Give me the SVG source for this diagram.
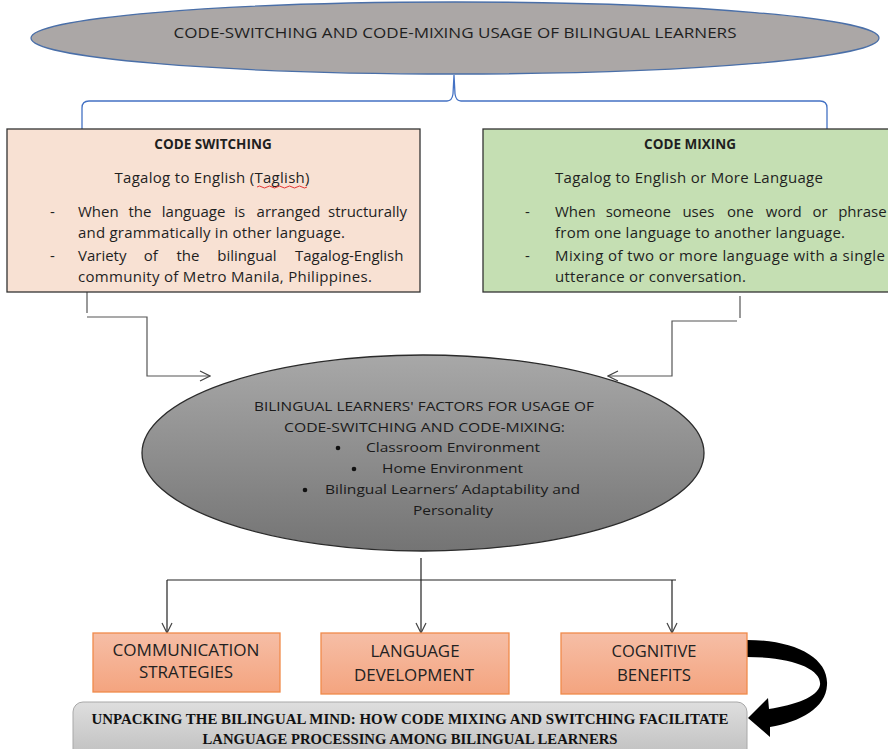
<svg xmlns="http://www.w3.org/2000/svg" width="888" height="749" viewBox="0 0 888 749">
<defs>
<style>
.t{font-family:"Open Sans","Noto Sans",sans-serif;fill:#1f1f1f}
.c{text-anchor:middle}
.b{font-weight:bold}
.body{font-size:15px}
.mid{font-size:13px;fill:#1a1a1a}
.bx{font-size:16px;fill:#222}
.ban{font-family:"Liberation Serif","DejaVu Serif",serif;font-weight:bold;font-size:15px;fill:#111;text-anchor:middle}
.conn{fill:none;stroke:#555;stroke-width:1.2}
.conn2{fill:none;stroke:#222;stroke-width:1.2}
.brace{fill:none;stroke:#4472c4;stroke-width:1.3}
.ob{fill:url(#og);stroke:#f08a4b;stroke-width:1.3}
</style>
<linearGradient id="mg" x1="0" y1="0" x2="0" y2="1"><stop offset="0" stop-color="#a8a8a8"/><stop offset="1" stop-color="#747474"/></linearGradient>
<linearGradient id="og" x1="0" y1="0" x2="0" y2="1"><stop offset="0" stop-color="#f6bea6"/><stop offset="1" stop-color="#f4a47f"/></linearGradient>
<linearGradient id="gg" x1="0" y1="0" x2="0" y2="1"><stop offset="0" stop-color="#dedede"/><stop offset="1" stop-color="#bdbdbd"/></linearGradient>
<marker id="ah" viewBox="0 0 12 12" refX="11" refY="6" markerWidth="12" markerHeight="12" markerUnits="userSpaceOnUse" orient="auto">
<path d="M1 1 L11 6 L1 11" fill="none" stroke="#444" stroke-width="1.2"/>
</marker>
</defs>

<g id="connectors">
<path class="brace" d="M82 129 L82 108 Q82 101 89 101 L447 101 Q452 101 453 94 L454 75 L455 94 Q456 101 461 101 L820 101 Q827 101 827 108 L827 129"/>
<line class="conn" x1="87" y1="292" x2="87" y2="313"/>
<polyline class="conn" points="87,317 147,317 147,376 210,376" marker-end="url(#ah)"/>
<line class="conn" x1="740" y1="296" x2="740" y2="318"/>
<polyline class="conn" points="737,321 672,321 672,376 608,376" marker-end="url(#ah)"/>
<line class="conn2" x1="421" y1="558" x2="421" y2="633" marker-end="url(#ah)"/>
<line class="conn2" x1="167" y1="580" x2="676" y2="580"/>
<line class="conn2" x1="167" y1="580" x2="167" y2="633" marker-end="url(#ah)"/>
<line class="conn2" x1="672" y1="580" x2="672" y2="633" marker-end="url(#ah)"/>
<path d="M747 640 C795 640 829 658 827 685 C826 708 800 722 770 727 L770 737 L748 718 L768 698 L769 709 C795 705 818 697 820 685 C822 670 795 657 747 657 Z" fill="#000"/>
</g>

<g id="title">
<ellipse cx="455" cy="38" rx="424" ry="36" fill="#aba7a6" stroke="#4a6fa8" stroke-width="1.3"/>
<text class="t c" x="455" y="38" font-size="14" textLength="563" lengthAdjust="spacingAndGlyphs">CODE-SWITCHING AND CODE-MIXING USAGE OF BILINGUAL LEARNERS</text>
</g>

<g id="code-switching">
<rect x="7" y="129" width="413" height="163" fill="#f8e1d3" stroke="#333" stroke-width="1.3"/>
<text class="t c b" x="213" y="149" font-size="13.5">CODE SWITCHING</text>
<text class="t c body" x="212" y="183" textLength="195">Tagalog to English (Taglish)</text>
<path d="M257 187 q2.5 -2 5 0 t5 0 t5 0 t5 0 t5 0 t5 0 t5 0 t5 0 t5 0 t5 0" fill="none" stroke="#e02020" stroke-width="0.9"/>
<text class="t body" x="50" y="217">-</text>
<text class="t body" y="217"><tspan x="78">When</tspan><tspan x="128.4">the</tspan><tspan x="161.8">language</tspan><tspan x="234.2">is</tspan><tspan x="256.6">arranged</tspan><tspan x="328">structurally</tspan></text>
<text class="t body" x="78" y="238" textLength="267">and grammatically in other language.</text>
<text class="t body" x="50" y="261">-</text>
<text class="t body" y="261"><tspan x="78">Variety</tspan><tspan x="143.8">of</tspan><tspan x="176.5">the</tspan><tspan x="217.3">bilingual</tspan><tspan x="295">Tagalog-English</tspan></text>
<text class="t body" x="78" y="282" textLength="294">community of Metro Manila, Philippines.</text>
</g>

<g id="code-mixing">
<rect x="483" y="129" width="410" height="163" fill="#c5dfb3" stroke="#333" stroke-width="1.3"/>
<text class="t c b" x="690" y="149" font-size="13.5">CODE MIXING</text>
<text class="t body" x="555" y="183" textLength="268">Tagalog to English or More Language</text>
<text class="t body" x="525" y="217">-</text>
<text class="t body" y="217"><tspan x="555">When</tspan><tspan x="605.7">someone</tspan><tspan x="682.4">uses</tspan><tspan x="727.1">one</tspan><tspan x="765.8">word</tspan><tspan x="812.5">or</tspan><tspan x="838.2">phrase</tspan></text>
<text class="t body" x="555" y="238" textLength="290">from one language to another language.</text>
<text class="t body" x="525" y="261">-</text>
<text class="t body" x="555" y="261" textLength="330">Mixing of two or more language with a single</text>
<text class="t body" x="555" y="282" textLength="191">utterance or conversation.</text>
</g>

<g id="factors">
<ellipse cx="423" cy="453" rx="281" ry="98" fill="url(#mg)" stroke="#2b2b2b" stroke-width="1.3"/>
<text class="t mid" x="254" y="411" textLength="340" lengthAdjust="spacingAndGlyphs">BILINGUAL LEARNERS' FACTORS FOR USAGE OF</text>
<text class="t mid" x="284" y="432" textLength="281" lengthAdjust="spacingAndGlyphs">CODE-SWITCHING AND CODE-MIXING:</text>
<circle cx="338" cy="448" r="2.3" fill="#111"/>
<text class="t mid" x="366" y="452" textLength="174" lengthAdjust="spacingAndGlyphs">Classroom Environment</text>
<circle cx="354" cy="469" r="2.3" fill="#111"/>
<text class="t mid" x="382" y="473" textLength="141" lengthAdjust="spacingAndGlyphs">Home Environment</text>
<circle cx="305" cy="490" r="2.3" fill="#111"/>
<text class="t mid" x="325" y="494" textLength="255" lengthAdjust="spacingAndGlyphs">Bilingual Learners’ Adaptability and</text>
<text class="t mid" x="413" y="515" textLength="80" lengthAdjust="spacingAndGlyphs">Personality</text>
</g>

<g id="communication">
<rect class="ob" x="93" y="633" width="187" height="59"/>
<text class="t c bx" x="186" y="656" textLength="147" lengthAdjust="spacingAndGlyphs">COMMUNICATION</text>
<text class="t c bx" x="186" y="678" textLength="94" lengthAdjust="spacingAndGlyphs">STRATEGIES</text>
</g>

<g id="language-development">
<rect class="ob" x="321" y="633" width="188" height="61"/>
<text class="t c bx" x="415" y="657" textLength="89" lengthAdjust="spacingAndGlyphs">LANGUAGE</text>
<text class="t c bx" x="414" y="681" textLength="120" lengthAdjust="spacingAndGlyphs">DEVELOPMENT</text>
</g>

<g id="cognitive">
<rect class="ob" x="561" y="633" width="186" height="61"/>
<text class="t c bx" x="654" y="657" textLength="85" lengthAdjust="spacingAndGlyphs">COGNITIVE</text>
<text class="t c bx" x="654" y="681" textLength="74" lengthAdjust="spacingAndGlyphs">BENEFITS</text>
</g>

<g id="banner">
<rect x="73" y="702" width="674" height="60" rx="10" fill="url(#gg)" stroke="#a8a8a8" stroke-width="1"/>
<text class="ban" x="410" y="724" textLength="637" lengthAdjust="spacingAndGlyphs">UNPACKING THE BILINGUAL MIND: HOW CODE MIXING AND SWITCHING FACILITATE</text>
<text class="ban" x="410" y="744" textLength="415" lengthAdjust="spacingAndGlyphs">LANGUAGE PROCESSING AMONG BILINGUAL LEARNERS</text>
</g>
</svg>
